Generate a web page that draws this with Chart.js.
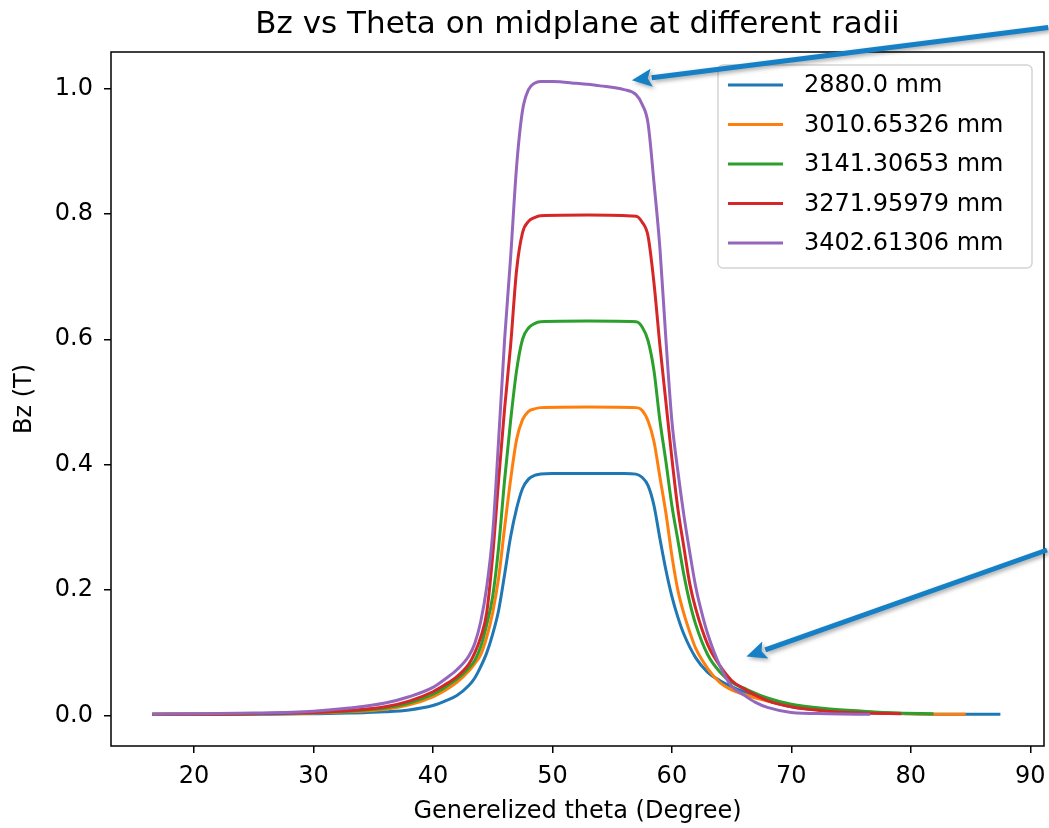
<!DOCTYPE html>
<html>
<head>
<meta charset="utf-8">
<script src="https://cdn.jsdelivr.net/npm/chart.js@4.4.1/dist/chart.umd.min.js"></script>
<style>
  html, body { margin: 0; padding: 0; background: #fff; }
</style>
</head>
<body>
<canvas id="bz-chart" width="1049" height="828"></canvas>
<script>
// radii (legend labels)
const radii = ["2880.0 mm", "3010.65326 mm", "3141.30653 mm", "3271.95979 mm", "3402.61306 mm"];
const colors = ["#1f77b4", "#ff7f0e", "#2ca02c", "#d62728", "#9467bd"];

// Bz (T) vs generalized theta (deg)
const theta2880 = [16.5, 20, 25, 30, 33, 36, 38, 40, 41, 42, 43, 43.5, 44, 44.5, 45, 45.5, 46, 46.5, 47, 47.5, 48, 48.5, 49, 50, 53, 56, 57, 57.5, 58, 58.5, 59, 59.5, 60, 60.5, 61, 62, 63, 64, 65, 66, 68, 70, 73, 76, 80, 84, 87.5];
const bz2880 = [0.002, 0.002, 0.002, 0.003, 0.004, 0.006, 0.009, 0.016, 0.023, 0.032, 0.048, 0.06, 0.078, 0.1, 0.13, 0.168, 0.225, 0.285, 0.33, 0.362, 0.377, 0.383, 0.385, 0.386, 0.386, 0.386, 0.385, 0.38, 0.367, 0.335, 0.282, 0.232, 0.19, 0.157, 0.13, 0.092, 0.069, 0.056, 0.046, 0.038, 0.024, 0.014, 0.008, 0.005, 0.003, 0.002, 0.002];

const theta3010 = [16.5, 20, 25, 30, 33, 36, 38, 40, 41, 42, 43, 43.5, 44, 44.5, 45, 45.5, 46, 46.5, 47, 47.5, 48, 48.5, 49, 53, 57, 57.5, 58, 58.5, 59, 59.5, 60, 60.5, 61, 61.5, 62, 63, 64, 65, 66, 68, 70, 73, 76, 80, 84.6];
const bz3010 = [0.002, 0.002, 0.003, 0.004, 0.006, 0.01, 0.017, 0.03, 0.04, 0.053, 0.071, 0.083, 0.097, 0.125, 0.164, 0.22, 0.3, 0.376, 0.44, 0.472, 0.485, 0.489, 0.491, 0.492, 0.491, 0.487, 0.47, 0.437, 0.38, 0.323, 0.255, 0.2, 0.163, 0.133, 0.107, 0.075, 0.053, 0.041, 0.034, 0.023, 0.015, 0.009, 0.006, 0.003, 0.002];

const theta3141 = [16.5, 20, 25, 30, 33, 36, 38, 40, 41, 42, 43, 43.5, 44, 44.5, 45, 45.5, 46, 46.5, 47, 47.5, 48, 48.5, 49, 53, 57, 57.5, 58, 58.5, 59, 59.5, 60, 60.5, 61, 61.5, 62, 63, 64, 65, 66, 68, 70, 73, 76, 79, 81.9];
const bz3141 = [0.002, 0.002, 0.003, 0.005, 0.007, 0.012, 0.02, 0.034, 0.045, 0.058, 0.076, 0.088, 0.11, 0.145, 0.19, 0.269, 0.376, 0.47, 0.55, 0.6, 0.618, 0.625, 0.628, 0.629, 0.628, 0.62, 0.598, 0.55, 0.47, 0.405, 0.335, 0.28, 0.225, 0.18, 0.145, 0.097, 0.07, 0.053, 0.044, 0.028, 0.018, 0.011, 0.007, 0.004, 0.003];

const theta3272 = [16.5, 20, 25, 30, 33, 36, 38, 40, 41, 42, 43, 43.5, 44, 44.5, 45, 45.5, 46, 46.5, 47, 47.5, 48, 48.5, 49, 53, 57, 57.5, 58, 58.5, 59, 59.5, 60, 60.5, 61, 61.5, 62, 63, 64, 65, 66, 68, 70, 73, 76, 79.2];
const bz3272 = [0.002, 0.002, 0.003, 0.005, 0.008, 0.014, 0.023, 0.038, 0.049, 0.062, 0.082, 0.1, 0.125, 0.164, 0.255, 0.376, 0.49, 0.59, 0.71, 0.77, 0.788, 0.794, 0.797, 0.798, 0.796, 0.787, 0.765, 0.69, 0.59, 0.5, 0.41, 0.33, 0.269, 0.21, 0.17, 0.113, 0.08, 0.056, 0.043, 0.024, 0.014, 0.007, 0.004, 0.003];

const theta3403 = [16.5, 20, 25, 30, 33, 36, 38, 40, 41, 42, 43, 43.5, 44, 44.5, 45, 45.5, 46, 46.5, 47, 47.5, 48, 48.5, 49, 50, 52, 54, 56, 57, 57.5, 58, 58.5, 59, 59.5, 60, 60.5, 61, 61.5, 62, 62.5, 63, 64, 65, 66, 67, 68, 70, 73, 76.6];
const bz3403 = [0.002, 0.003, 0.004, 0.007, 0.012, 0.02, 0.03, 0.045, 0.058, 0.073, 0.095, 0.115, 0.15, 0.205, 0.29, 0.44, 0.6, 0.73, 0.875, 0.965, 0.998, 1.008, 1.011, 1.011, 1.008, 1.004, 0.998, 0.99, 0.975, 0.945, 0.85, 0.745, 0.6, 0.47, 0.39, 0.32, 0.26, 0.205, 0.164, 0.13, 0.08, 0.047, 0.033, 0.021, 0.013, 0.005, 0.003, 0.002];

const xTicks = [20, 30, 40, 50, 60, 70, 80, 90];
const yTicks = [0.0, 0.2, 0.4, 0.6, 0.8, 1.0];

// annotation arrows, [tailX, tailY, tipX, tipY] in data units
const arrows = [
  [91.5, 1.097, 56.65, 1.013],
  [91.4, 0.264, 66.24, 0.094]
];

const FONT = "'DejaVu Sans', sans-serif";
const TITLE = 'Bz vs Theta on midplane at different radii';

const thetas = [theta2880, theta3010, theta3141, theta3272, theta3403];
const bzs = [bz2880, bz3010, bz3141, bz3272, bz3403];

function zip(xs, ys) {
  return xs.map((x, i) => ({ x: x, y: ys[i] }));
}

const datasets = radii.map((r, i) => ({
  label: r,
  data: zip(thetas[i], bzs[i]),
  borderColor: colors[i],
  backgroundColor: colors[i],
  borderWidth: 3,
  pointRadius: 0,
  fill: false,
  cubicInterpolationMode: 'monotone',
  order: radii.length - i   // later series drawn on top, like matplotlib
}));

// title, box around plot, legend and arrows
const extras = {
  id: 'extras',
  afterDatasetsDraw(chart) {
    const ctx = chart.ctx;
    const a = chart.chartArea;
    ctx.save();
    ctx.fillStyle = '#000';
    ctx.font = '31px ' + FONT;
    ctx.textAlign = 'center';
    ctx.textBaseline = 'middle';
    ctx.fillText(TITLE, (a.left + a.right) / 2, 25);

    ctx.strokeStyle = '#000';
    ctx.lineWidth = 1.5;
    ctx.strokeRect(a.left, a.top, a.right - a.left, a.bottom - a.top);

    // legend
    const lx = 718, ly = 65, lw = 314, lh = 203;
    ctx.beginPath();
    ctx.roundRect(lx, ly, lw, lh, 5);
    ctx.fillStyle = 'rgba(255,255,255,0.8)';
    ctx.fill();
    ctx.strokeStyle = '#d4d4d4';
    ctx.lineWidth = 1.5;
    ctx.stroke();
    ctx.font = '24px ' + FONT;
    ctx.textBaseline = 'middle';
    ctx.textAlign = 'left';
    chart.data.datasets.forEach((ds, i) => {
      const y = 85 + i * 39.5;
      ctx.beginPath();
      ctx.moveTo(728, y);
      ctx.lineTo(783, y);
      ctx.strokeStyle = ds.borderColor;
      ctx.lineWidth = 3;
      ctx.stroke();
      ctx.fillStyle = '#000';
      ctx.fillText(ds.label, 804, y + 1);
    });
    ctx.restore();
  },
  afterDraw(chart) {
    const ctx = chart.ctx;
    const xs = chart.scales.x, ys = chart.scales.y;
    ctx.save();
    ctx.shadowColor = 'rgba(0,0,0,0.35)';
    ctx.shadowBlur = 4;
    ctx.shadowOffsetX = 2;
    ctx.shadowOffsetY = 2;
    ctx.strokeStyle = '#1580c6';
    ctx.fillStyle = '#1580c6';
    ctx.lineWidth = 5;
    arrows.forEach(ar => {
      const x0 = xs.getPixelForValue(ar[0]), y0 = ys.getPixelForValue(ar[1]);
      const x1 = xs.getPixelForValue(ar[2]), y1 = ys.getPixelForValue(ar[3]);
      const ang = Math.atan2(y1 - y0, x1 - x0);
      const hl = 20, hw = 9;
      const bx = x1 - hl * Math.cos(ang), by = y1 - hl * Math.sin(ang);
      ctx.beginPath();
      ctx.moveTo(x0, y0);
      ctx.lineTo(bx, by);
      ctx.stroke();
      ctx.beginPath();
      ctx.moveTo(x1, y1);
      ctx.lineTo(bx - hw * Math.sin(ang), by + hw * Math.cos(ang));
      ctx.lineTo(bx + 4 * Math.cos(ang), by + 4 * Math.sin(ang));
      ctx.lineTo(bx + hw * Math.sin(ang), by - hw * Math.cos(ang));
      ctx.closePath();
      ctx.fill();
    });
    ctx.restore();
  }
};

const ctx = document.getElementById('bz-chart').getContext('2d');

const bzChart = new Chart(ctx, {
  type: 'line',
  data: { datasets: datasets },
  options: {
    responsive: false,
    animation: false,
    layout: { padding: { left: 0, right: 5, top: 52, bottom: 0 } },
    plugins: {
      legend: { display: false },
      tooltip: { enabled: false },
      title: { display: false }
    },
    scales: {
      x: {
        type: 'linear',
        min: 13.05,
        max: 91.15,
        afterBuildTicks: s => { s.ticks = xTicks.map(v => ({ value: v })); },
        afterFit: s => { s.height = 82; s.paddingLeft = 0; s.paddingRight = 0; },
        grid: { display: true, drawOnChartArea: false, drawTicks: true, tickLength: 7, color: '#000', lineWidth: 1.5 },
        border: { display: false },
        ticks: { color: '#000', padding: 9, maxRotation: 0, font: { family: FONT, size: 24 } },
        title: {
          display: true,
          text: 'Generelized theta (Degree)',
          color: '#000',
          font: { family: FONT, size: 24 },
          padding: { top: 0, bottom: 2 }
        }
      },
      y: {
        type: 'linear',
        min: -0.0485,
        max: 1.058,
        afterBuildTicks: s => { s.ticks = yTicks.map(v => ({ value: v })); },
        afterFit: s => { s.width = 111; s.paddingTop = 0; s.paddingBottom = 0; },
        grid: { display: true, drawOnChartArea: false, drawTicks: true, tickLength: 7, color: '#000', lineWidth: 1.5 },
        border: { display: false },
        ticks: {
          color: '#000',
          padding: 11,
          font: { family: FONT, size: 24 },
          callback: v => v.toFixed(1)
        },
        title: {
          display: true,
          text: 'Bz (T)',
          color: '#000',
          font: { family: FONT, size: 24 },
          padding: { top: 10, bottom: 0 }
        }
      }
    }
  },
  plugins: [extras]
});
</script>
</body>
</html>
